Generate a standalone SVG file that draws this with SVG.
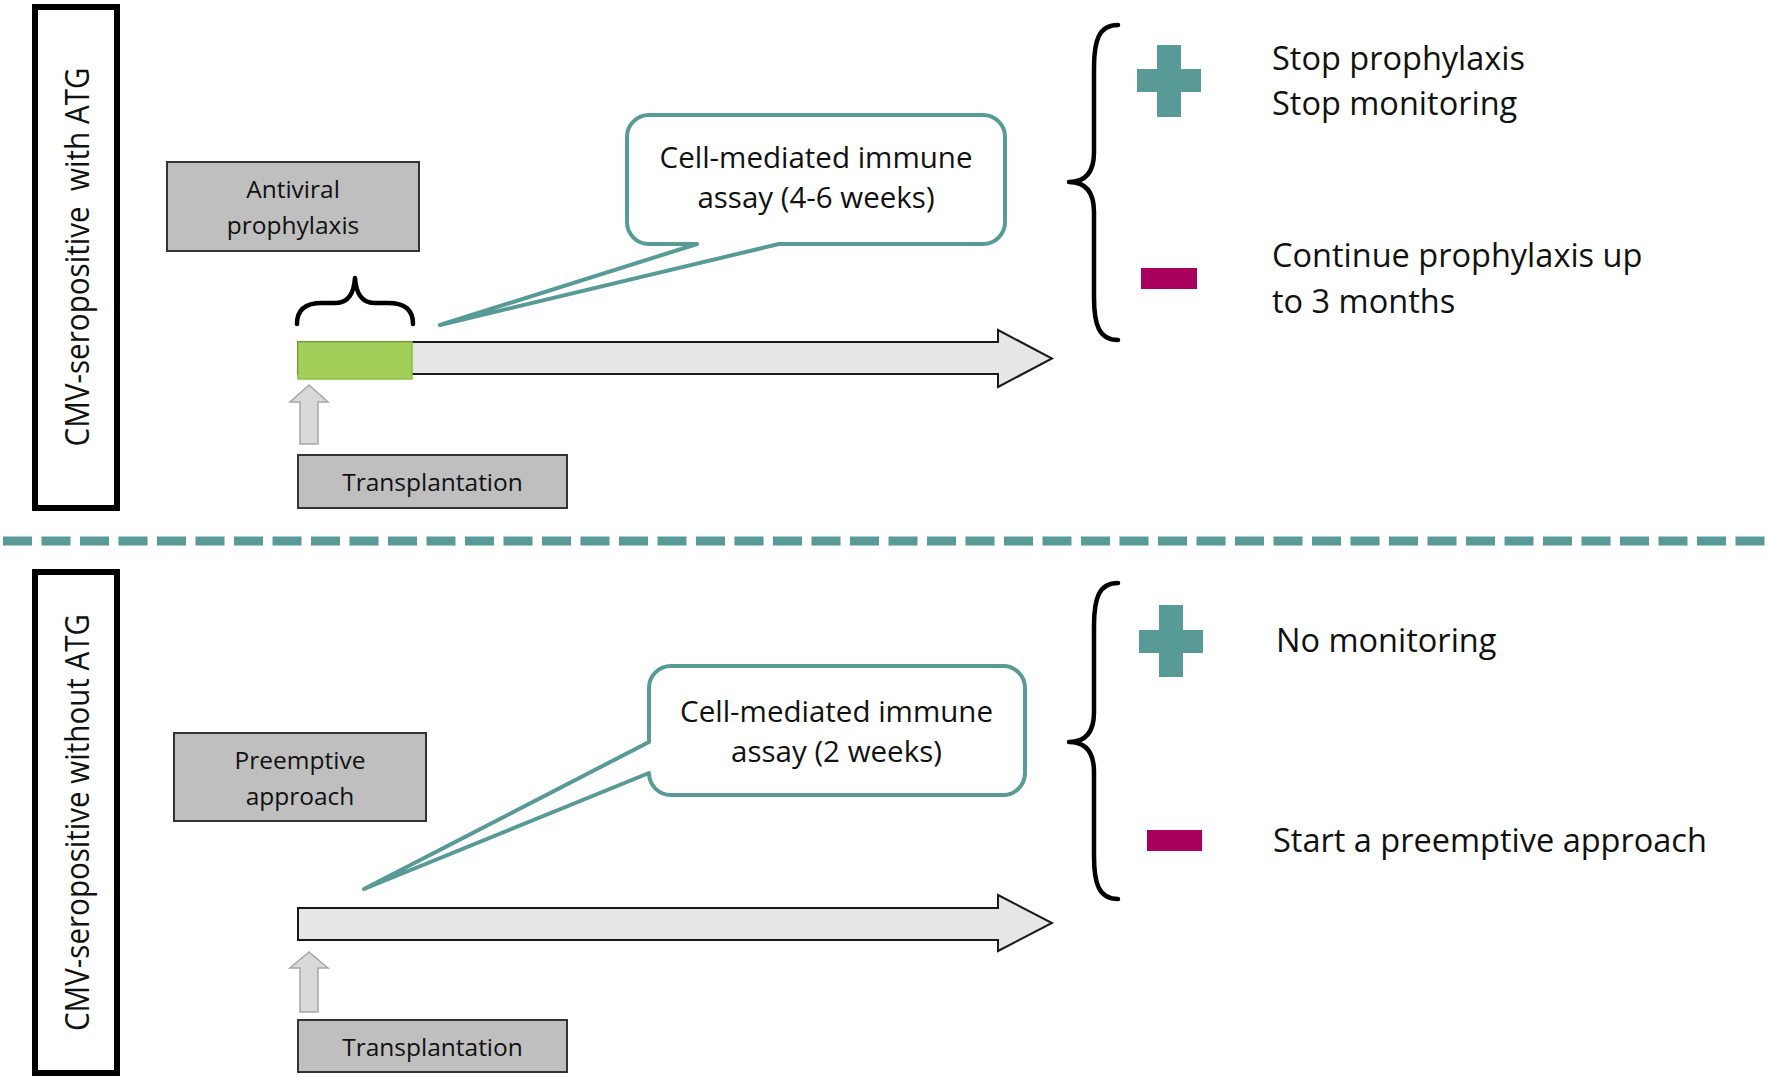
<svg xmlns="http://www.w3.org/2000/svg" width="1772" height="1078" viewBox="0 0 1772 1078">
  <style>
    .txt { font-family: "Open Sans", "Liberation Sans", sans-serif; fill: #111111; }
    .lbl { font-size: 32px; }
    .box { fill: #bfbfbf; stroke: #333333; stroke-width: 2; }
    .boxtxt { font-size: 24.5px; text-anchor: middle; }
    .call { fill: #ffffff; stroke: #579a96; stroke-width: 4; stroke-linejoin: round; }
    .calltxt { font-size: 29.5px; text-anchor: middle; }
    .res { font-size: 32.5px; }
    .side { fill: #ffffff; stroke: #000000; stroke-width: 6; }
    .tl { fill: #e6e6e6; stroke: #1a1a1a; stroke-width: 2; }
    .up { fill: #d9d9d9; stroke: #a6a6a6; stroke-width: 1.5; }
    .brace { fill: none; stroke: #000000; stroke-width: 4.5; stroke-linecap: round; stroke-linejoin: round; }
    .plus { fill: #579a96; }
    .minus { fill: #a8005c; }
  </style>

  <!-- separator -->
  <line id="separator" x1="3" y1="541" x2="1772" y2="541" stroke="#579a96" stroke-width="9" stroke-dasharray="29 9.5"/>

  <!-- ===== Top section ===== -->
  <g id="label-top">
    <rect class="side" x="35" y="7" width="82" height="501"/>
    <text class="txt lbl" transform="translate(89,257) rotate(-90)" text-anchor="middle" textLength="379" lengthAdjust="spacingAndGlyphs" xml:space="preserve">CMV-seropositive  with ATG</text>
  </g>

  <g id="antiviral-prophylaxis">
    <rect class="box" x="167" y="162" width="252" height="89"/>
    <text class="txt boxtxt" x="293" y="198">Antiviral</text>
    <text class="txt boxtxt" x="293" y="234">prophylaxis</text>
  </g>

  <g id="timeline-top">
    <path class="tl" d="M298,342 H998 V330 L1052,358.5 L998,387 V374 H298 Z"/>
    <rect x="298" y="342" width="114" height="37" fill="#a2cf5a" stroke="#8dbd45" stroke-width="1.5"/>
    <path class="brace" d="M297,324 C297,309 306,303 322,303 L336,303 C348,303 354,293 355,278 C356,293 362,303 374,303 L388,303 C404,303 413,309 413,324"/>
  </g>

  <g id="transplant-top">
    <path class="up" d="M309,385 L328,402 H318 V444 H300 V402 H290 Z"/>
    <rect class="box" x="298" y="455" width="269" height="53"/>
    <text class="txt boxtxt" x="432.5" y="491">Transplantation</text>
  </g>

  <g id="assay-top">
    <path class="call" d="M649,115 H983 A22,22 0 0 1 1005,137 V222 A22,22 0 0 1 983,244 H779 L440,325 L697,244 H649 A22,22 0 0 1 627,222 V137 A22,22 0 0 1 649,115 Z"/>
    <text class="txt calltxt" x="816" y="168">Cell-mediated immune</text>
    <text class="txt calltxt" x="816" y="208">assay (4-6 weeks)</text>
  </g>

  <g id="outcomes-top">
    <path class="brace" d="M1118,25 C1099,25 1094,40 1094,68 L1094,152 C1094,172 1086,182 1069,182 C1086,182 1094,192 1094,212 L1094,297 C1094,325 1099,340 1118,340"/>
    <g id="plus-top">
      <rect class="plus" x="1157" y="45" width="24" height="72"/>
      <rect class="plus" x="1137" y="69" width="64" height="23"/>
    </g>
    <rect id="minus-top" class="minus" x="1141" y="268" width="56" height="21"/>
    <text class="txt res" x="1272" y="70">Stop prophylaxis</text>
    <text class="txt res" x="1272" y="115">Stop monitoring</text>
    <text class="txt res" x="1272" y="267">Continue prophylaxis up</text>
    <text class="txt res" x="1272" y="313">to 3 months</text>
  </g>

  <!-- ===== Bottom section ===== -->
  <g id="label-bottom">
    <rect class="side" x="35" y="572" width="82" height="501"/>
    <text class="txt lbl" transform="translate(89,822.5) rotate(-90)" text-anchor="middle" textLength="417" lengthAdjust="spacingAndGlyphs">CMV-seropositive without ATG</text>
  </g>

  <g id="preemptive-approach">
    <rect class="box" x="174" y="733" width="252" height="88"/>
    <text class="txt boxtxt" x="300" y="769">Preemptive</text>
    <text class="txt boxtxt" x="300" y="805">approach</text>
  </g>

  <g id="timeline-bottom">
    <path class="tl" d="M298,908 H998 V895 L1052,923 L998,951 V940 H298 Z"/>
  </g>

  <g id="transplant-bottom">
    <path class="up" d="M309,952 L328,968 H318 V1012 H300 V968 H290 Z"/>
    <rect class="box" x="298" y="1020" width="269" height="52"/>
    <text class="txt boxtxt" x="432.5" y="1056">Transplantation</text>
  </g>

  <g id="assay-bottom">
    <path class="call" d="M671,666 H1003 A22,22 0 0 1 1025,688 V773 A22,22 0 0 1 1003,795 H671 A22,22 0 0 1 649,773 L364,889 L649,742 V688 A22,22 0 0 1 671,666 Z"/>
    <text class="txt calltxt" x="836.5" y="722">Cell-mediated immune</text>
    <text class="txt calltxt" x="836.5" y="762">assay (2 weeks)</text>
  </g>

  <g id="outcomes-bottom">
    <path class="brace" d="M1118,583 C1099,583 1094,598 1094,626 L1094,712 C1094,732 1086,742 1069,742 C1086,742 1094,752 1094,772 L1094,856 C1094,884 1099,899 1118,899"/>
    <g id="plus-bottom">
      <rect class="plus" x="1159" y="605" width="24" height="72"/>
      <rect class="plus" x="1139" y="630" width="64" height="23"/>
    </g>
    <rect id="minus-bottom" class="minus" x="1147" y="830" width="55" height="21"/>
    <text class="txt res" x="1276" y="652">No monitoring</text>
    <text class="txt res" x="1273" y="852">Start a preemptive approach</text>
  </g>
</svg>
